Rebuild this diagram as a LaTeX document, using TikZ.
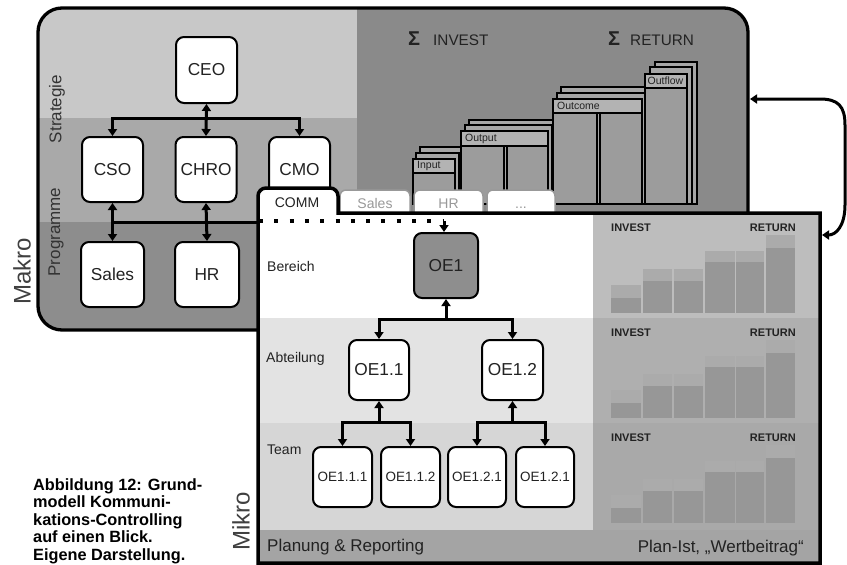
\documentclass[tikz,border=0pt]{standalone}
\usepackage{fontspec}
\setmainfont{Liberation Sans}
\usetikzlibrary{arrows.meta}
\definecolor{bandA}{HTML}{C8C8C8}
\definecolor{bandB}{HTML}{A9A9A9}
\definecolor{bandC}{HTML}{8D8D8D}
\definecolor{darkR}{HTML}{8A8A8A}
\definecolor{mkAbt}{HTML}{E3E3E3}
\definecolor{mkTeam}{HTML}{D6D6D6}
\definecolor{mkFoot}{HTML}{A4A4A4}
\definecolor{chA}{HTML}{BDBDBD}
\definecolor{chB}{HTML}{AFAFAF}
\definecolor{chC}{HTML}{A9A9A9}
\definecolor{barc}{HTML}{979797}
\definecolor{capc}{HTML}{ABABAB}
\definecolor{stkLab}{HTML}{B3B3B3}
\definecolor{stkCol}{HTML}{9C9C9C}
\definecolor{stkBack}{HTML}{A6A6A6}
\definecolor{oeDark}{HTML}{8E8E8E}
\definecolor{txt}{HTML}{222222}
\begin{document}
\begin{tikzpicture}[x=1pt,y=-1pt,
  ah/.tip={Triangle[length=7pt,width=9pt]},
  box/.style={draw=black, line width=2pt, fill=white, rounded corners=8pt, inner sep=0pt, font=\fontsize{17.3}{20}\selectfont, text=txt},
  smallbox/.style={box, font=\fontsize{13.5}{16}\selectfont},
  conn/.style={line width=3pt, draw=black, line join=miter},
  dotline/.style={line width=4pt, draw=black, dash pattern=on 4pt off 11.3pt},
  stk/.style={fill=stkBack, draw=black, line width=1.8pt},
  col/.style={fill=stkCol, draw=black, line width=1.8pt},
  lab/.style={fill=stkLab, draw=black, line width=1.5pt},
  stktext/.style={anchor=west, inner sep=0pt, font=\fontsize{10.5}{13}\selectfont, text=txt},
  tabin/.style={fill=white, draw=black!40, line width=1.5pt, rounded corners=6pt},
  tabtext/.style={font=\fontsize{14}{16}\selectfont, text=black!40, inner sep=0pt, anchor=base},
  vlabel/.style={rotate=90, inner sep=0pt, font=\fontsize{17}{20}\selectfont, text=black!80},
  biglabel/.style={rotate=90, inner sep=0pt, font=\fontsize{24}{28}\selectfont, text=black!75},
  rowlabel/.style={anchor=west, inner sep=0pt, font=\fontsize{14}{16}\selectfont, text=txt},
  chlabel/.style={inner sep=0pt, font=\bfseries\fontsize{11}{13}\selectfont, text=txt},
  caption/.style={anchor=base west, inner sep=0pt, font=\bfseries\fontsize{16.3}{17}\selectfont, text=black}
]
\useasboundingbox (0,0) rectangle (847,565);
\clip (0,0) rectangle (847,565);
\fill[white] (0,0) rectangle (847,565);

% ---------------- Makro box ----------------
\begin{scope}
\clip[rounded corners=24pt] (38,8) rectangle (748,330);
\fill[bandA] (38,8) rectangle (357,118);
\fill[bandB] (38,118) rectangle (357,222);
\fill[bandC] (38,222) rectangle (357,330);
\fill[darkR] (357,8) rectangle (748,330);
\end{scope}
\draw[line width=3.3pt, rounded corners=24pt] (38,8) rectangle (748,330);

\node[vlabel] (lstrat) at (57,109) {Strategie};
\node[vlabel] (lprog) at (56,232) {Programme};
\node[biglabel] (lmakro) at (22,271) {Makro};

% Sigma headings
\node[anchor=west, inner sep=0pt, font=\fontsize{15.3}{18}\selectfont, text=txt] (sinv) at (408,39) {{\bfseries\fontsize{20}{20}\selectfont Σ}\hspace{13pt}INVEST};
\node[anchor=west, inner sep=0pt, font=\fontsize{15.3}{18}\selectfont, text=txt] (sret) at (608,39) {{\bfseries\fontsize{20}{20}\selectfont Σ}\hspace{10pt}RETURN};

% 3D stacks
\draw[stk] (420,147) rectangle (463,204);
\draw[stk] (416,153) rectangle (459,204);
\draw[col] (413,173) rectangle (455,204);
\draw[lab] (413,159) rectangle (455,173);
\node[stktext] (tinput) at (417,166) {Input};

\draw[stk] (469,120) rectangle (555,204);
\draw[stk] (465,125) rectangle (552,204);
\draw[col] (461,146) rectangle (504,204);
\draw[col] (507,146) rectangle (548,204);
\draw[lab] (461,131) rectangle (548,146);
\node[stktext] (toutput) at (465,138.5) {Output};

\draw[stk] (561,87) rectangle (650,204);
\draw[stk] (557,93) rectangle (646,204);
\draw[col] (553,113) rectangle (597,204);
\draw[col] (600,113) rectangle (642,204);
\draw[lab] (553,99) rectangle (642,113);
\node[stktext] (toutcome) at (557,106) {Outcome};

\draw[stk] (655,62) rectangle (697,204);
\draw[stk] (650,67) rectangle (692,204);
\draw[col] (645,88) rectangle (687,204);
\draw[lab] (645,74) rectangle (687,88);
\node[stktext] (toutflow) at (647.5,81) {Outflow};

% Makro nodes
\node[box, minimum width=61pt, minimum height=66pt] (ceo) at (206.5,70) {CEO};
\node[box, minimum width=61pt, minimum height=65pt] (cso) at (112.5,169.5) {CSO};
\node[box, minimum width=61pt, minimum height=65pt] (chro) at (206,169.5) {CHRO};
\node[box, minimum width=61pt, minimum height=65pt] (cmo) at (299.5,169.5) {CMO};
\node[box, minimum width=63pt, minimum height=65pt] (sales) at (112.5,274.5) {Sales};
\node[box, minimum width=64pt, minimum height=65pt] (hr) at (207,274.5) {HR};

\coordinate (bus1) at (0,118);
\coordinate (bus2) at (0,222);
\coordinate (mikroL) at (258,222);

\draw[conn, arrows={ah-ah}] (cso.north) -- (cso.north |- bus1) -- (cmo.north |- bus1) -- (cmo.north);
\draw[conn, arrows={ah-ah}] (ceo.south) -- (chro.north);
\draw[conn, arrows={ah-ah}] (cso.south) -- (sales.north);
\draw[conn, arrows={ah-ah}] (chro.south) -- (hr.north);
\draw[conn] (cso.south |- bus2) -- (mikroL);

% inactive tabs
\path[tabin] (340,214) -- (340,190) -- (410,190) -- (410,214);
\path[tabin] (414,214) -- (414,190) -- (483,190) -- (483,214);
\path[tabin] (487,214) -- (487,190) -- (555,190) -- (555,214);
\node[tabtext] (tsales) at (375,208) {Sales};
\node[tabtext] (thr) at (448.5,208) {HR};
\node[tabtext] (tdots) at (521,208) {...};

% ---------------- Mikro box ----------------
\path[fill=white] (258,563) -- (258,196) arc[start angle=180,end angle=270,radius=8] -- (330,188) arc[start angle=270,end angle=360,radius=8] -- (338,213) -- (820,213) -- (820,563) -- cycle;
\fill[mkAbt] (258,318) rectangle (593,423);
\fill[mkTeam] (258,423) rectangle (593,530);
\fill[mkFoot] (258,530) rectangle (820,563);

\foreach \b/\cc in {213/chA,318/chB,423/chC}{
  \fill[\cc] (593,\b) rectangle (820,{\b+105+(\b==423?2:0)});
  \foreach \xa/\xb/\ct/\bt in {611/641/72/85, 643/672/56/68, 674/703/56/68, 705/735/38/49, 736/764/38/49, 766/795/22/35}{
    \fill[capc] (\xa,{\b+\ct}) rectangle (\xb,{\b+\bt});
    \fill[barc] (\xa,{\b+\bt}) rectangle (\xb,{\b+100});
  }
  \node[chlabel, anchor=west] (inv\b) at (611,{\b+15}) {INVEST};
  \node[chlabel, anchor=east] (ret\b) at (796,{\b+15}) {RETURN};
}

\draw[line width=3.5pt] (258,563) -- (258,196) arc[start angle=180,end angle=270,radius=8] -- (330,188) arc[start angle=270,end angle=360,radius=8] -- (338,213) -- (820,213) -- (820,563) -- cycle;

\node[anchor=base, inner sep=0pt, font=\fontsize{14}{16}\selectfont, text=txt] (tcomm) at (297,207) {COMM};

\node[rowlabel] (lber) at (267,266) {Bereich};
\node[rowlabel] (labt) at (266,359) {Abteilung};
\node[rowlabel] (lteam) at (267,450) {Team};
\node[biglabel] (lmikro) at (241,521) {Mikro};

\node[anchor=west, inner sep=0pt, font=\fontsize{17}{20}\selectfont, text=txt] (plan) at (267,547) {Planung \& Reporting};
\node[anchor=east, inner sep=0pt, font=\fontsize{17}{20}\selectfont, text=txt] (planist) at (804,548) {Plan-Ist, „Wertbeitrag“};

% Mikro nodes
\node[box, fill=oeDark, minimum width=64pt, minimum height=65pt] (oe1) at (446,265.5) {OE1};
\node[box, minimum width=60pt, minimum height=60pt] (oe11) at (379,370) {OE1.1};
\node[box, minimum width=61pt, minimum height=60pt] (oe12) at (512.5,370) {OE1.2};
\node[smallbox, minimum width=59pt, minimum height=60pt] (oe111) at (342.5,477) {OE1.1.1};
\node[smallbox, minimum width=59pt, minimum height=60pt] (oe112) at (410.5,477) {OE1.1.2};
\node[smallbox, minimum width=58pt, minimum height=60pt] (oe121) at (477,477) {OE1.2.1};
\node[smallbox, minimum width=58pt, minimum height=60pt] (oe122) at (545,477) {OE1.2.1};

\coordinate (dotstart) at (259,221);
\coordinate (dotend) at (444,221);
\coordinate (bus3) at (0,319);
\coordinate (bus4) at (0,422);

\draw[dotline] (dotstart) -- (dotend);
\draw[conn, arrows={-ah}] (dotend) -- (dotend |- oe1.north);
\draw[conn, arrows={ah-}] (oe1.south) -- (oe1.south |- bus3);
\draw[conn, arrows={ah-ah}] (oe11.north) -- (oe11.north |- bus3) -- (oe12.north |- bus3) -- (oe12.north);
\draw[conn, arrows={ah-}] (oe11.south) -- (oe11.south |- bus4);
\draw[conn, arrows={ah-ah}] (oe111.north) -- (oe111.north |- bus4) -- (oe112.north |- bus4) -- (oe112.north);
\draw[conn, arrows={ah-}] (oe12.south) -- (oe12.south |- bus4);
\draw[conn, arrows={ah-ah}] (oe121.north) -- (oe121.north |- bus4) -- (oe122.north |- bus4) -- (oe122.north);

% bracket arrow between Makro and Mikro
\coordinate (mkR) at (750,99);
\coordinate (miR) at (822,235);
\draw[conn, arrows={ah-ah}] (mkR) -- (820,99) .. controls (838,99) and (845,106) .. (845,125) -- (845,205) .. controls (845,226) and (836,235) .. (miR);

% caption
\node[caption] (cap1) at (33,490) {Abbildung 12: Grund-};
\node[caption] (cap2) at (33,507.6) {modell Kommuni-};
\node[caption] (cap3) at (33,525.2) {kations-Controlling};
\node[caption] (cap4) at (33,542.8) {auf einen Blick.};
\node[caption] (cap5) at (33,560.4) {Eigene Darstellung.};
\end{tikzpicture}
\end{document}
